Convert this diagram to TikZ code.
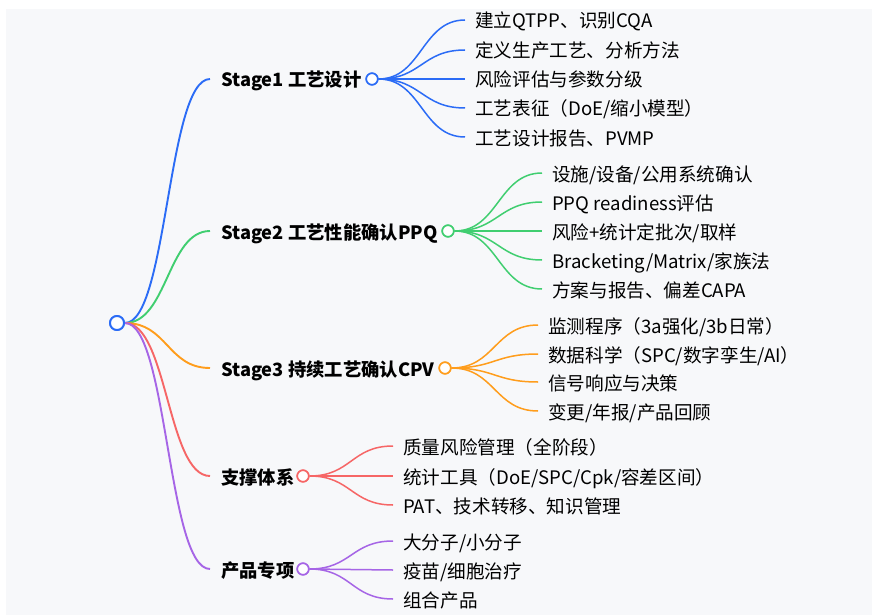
\documentclass[tikz,border=0pt]{standalone}
\usepackage{fontspec}
\setmainfont{Noto Sans CJK SC}
\usetikzlibrary{calc}
\definecolor{bgc}{RGB}{247,248,250}
\definecolor{cblue}{RGB}{43,108,246}
\definecolor{cgreen}{RGB}{64,206,112}
\definecolor{corange}{RGB}{255,157,28}
\definecolor{cred}{RGB}{246,102,102}
\definecolor{cpurple}{RGB}{166,101,230}
\newcommand\mmedge[3]{\draw[#1] let \p1=(#2), \p2=(#3) in (\p1) .. controls ({0.5*\x1+0.5*\x2},\y1) and ({0.5*\x1+0.5*\x2},\y2) .. (\p2);}
\begin{document}
\begin{tikzpicture}[x=1pt,y=-1pt,
  lbl/.style={anchor=base west,inner sep=0pt,font=\fontsize{18.6}{22}\selectfont},
  mainlbl/.style={anchor=base west,inner sep=0pt,font=\fontsize{18.3}{22}\selectfont\bfseries},
  dot/.style={circle,draw=#1,fill=white,line width=1.6pt,minimum size=11.5pt,inner sep=0pt},
  lone/.style={draw=#1,line width=1.9pt},
  ltwo/.style={draw=#1,line width=1.5pt}]
\useasboundingbox (0,0) rectangle (872,615);
\fill[bgc] (6,9) rectangle (872,615);

% root
\node[circle,draw=cblue,fill=white,line width=1.9pt,minimum size=14pt,inner sep=0pt] (root) at (117,323) {};

% level-1 end points and labels
\coordinate (e1) at (210,79);
\coordinate (e2) at (210,231);
\coordinate (e3) at (210,368);
\coordinate (e4) at (210,476);
\coordinate (e5) at (210,569);
\node[mainlbl] (t1) at (221,87) {Stage1 工艺设计};
\node[mainlbl] (t2) at (221,239) {Stage2 工艺性能确认PPQ};
\node[mainlbl] (t3) at (221,376) {Stage3 持续工艺确认CPV};
\node[mainlbl] (t4) at (221,484) {支撑体系};
\node[mainlbl] (t5) at (221,577) {产品专项};

\mmedge{lone=cblue}{root.east}{e1}
\mmedge{lone=cgreen}{root.east}{e2}
\mmedge{lone=corange}{root.east}{e3}
\mmedge{lone=cred}{root.east}{e4}
\mmedge{lone=cpurple}{root.east}{e5}
\node[circle,draw=cblue,fill=white,line width=1.9pt,minimum size=14pt,inner sep=0pt] at (root) {};

\node[dot=cblue] (d1) at (372,79) {};
\node[dot=cgreen] (d2) at (448,231) {};
\node[dot=corange] (d3) at (445,368) {};
\node[dot=cred] (d4) at (303,476) {};
\node[dot=cpurple] (d5) at (303,569) {};

% Stage1 children
\coordinate (a1) at (465,20);
\coordinate (a2) at (465,50);
\coordinate (a3) at (465,79);
\coordinate (a4) at (465,108);
\coordinate (a5) at (465,137);
\foreach \i in {1,...,5}{\mmedge{ltwo=cblue}{d1.east}{a\i}}
\node[lbl] (ta1) at (475,28) {建立QTPP、识别CQA};
\node[lbl] (ta2) at (475,58) {定义生产工艺、分析方法};
\node[lbl] (ta3) at (475,87) {风险评估与参数分级};
\node[lbl] (ta4) at (475,116) {工艺表征（DoE/缩小模型）};
\node[lbl] (ta5) at (475,145) {工艺设计报告、PVMP};

% Stage2 children
\coordinate (b1) at (542,173);
\coordinate (b2) at (542,202);
\coordinate (b3) at (542,231);
\coordinate (b4) at (542,260);
\coordinate (b5) at (542,289);
\foreach \i in {1,...,5}{\mmedge{ltwo=cgreen}{d2.east}{b\i}}
\node[lbl] (tb1) at (552,181) {设施/设备/公用系统确认};
\node[lbl] (tb2) at (552,210) {PPQ readiness评估};
\node[lbl] (tb3) at (552,239) {风险+统计定批次/取样};
\node[lbl] (tb4) at (552,268) {Bracketing/Matrix/家族法};
\node[lbl] (tb5) at (552,297) {方案与报告、偏差CAPA};

% Stage3 children
\coordinate (g1) at (538,325);
\coordinate (g2) at (538,354);
\coordinate (g3) at (538,382);
\coordinate (g4) at (538,411);
\foreach \i in {1,...,4}{\mmedge{ltwo=corange}{d3.east}{g\i}}
\node[lbl] (tg1) at (548,333) {监测程序（3a强化/3b日常）};
\node[lbl] (tg2) at (548,362) {数据科学（SPC/数字孪生/AI）};
\node[lbl] (tg3) at (548,390) {信号响应与决策};
\node[lbl] (tg4) at (548,419) {变更/年报/产品回顾};

% support children
\coordinate (h1) at (393,446);
\coordinate (h2) at (393,476);
\coordinate (h3) at (393,505);
\foreach \i in {1,...,3}{\mmedge{ltwo=cred}{d4.east}{h\i}}
\node[lbl] (th1) at (403,454) {质量风险管理（全阶段）};
\node[lbl] (th2) at (403,484) {统计工具（DoE/SPC/Cpk/容差区间）};
\node[lbl] (th3) at (403,513) {PAT、技术转移、知识管理};

% product children
\coordinate (p1) at (393,541);
\coordinate (p2) at (393,570);
\coordinate (p3) at (393,599);
\foreach \i in {1,...,3}{\mmedge{ltwo=cpurple}{d5.east}{p\i}}
\node[lbl] (tp1) at (403,549) {大分子/小分子};
\node[lbl] (tp2) at (403,578) {疫苗/细胞治疗};
\node[lbl] (tp3) at (403,607) {组合产品};

\foreach \c/\n in {cblue/d1,cgreen/d2,corange/d3,cred/d4,cpurple/d5}{\node[dot=\c] at (\n) {};}
\end{tikzpicture}
\end{document}
